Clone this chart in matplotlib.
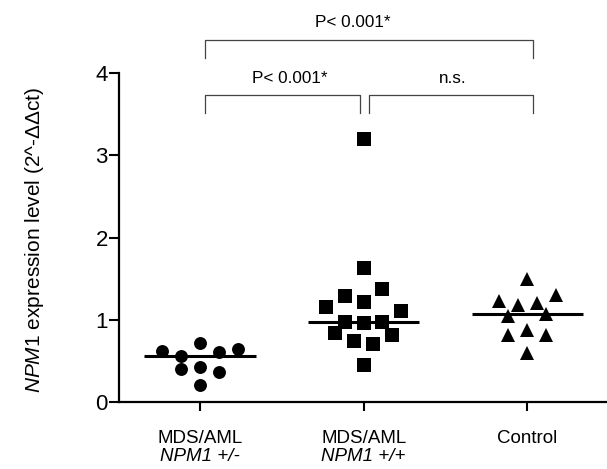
import numpy as np
import matplotlib
matplotlib.use("Agg")
import matplotlib.pyplot as plt
from matplotlib.transforms import blended_transform_factory

plt.rcParams['font.family'] = ['Liberation Sans', 'DejaVu Sans']
plt.rcParams['mathtext.fontset'] = 'custom'
plt.rcParams['mathtext.it'] = 'Liberation Sans:italic'
plt.rcParams['mathtext.rm'] = 'Liberation Sans'

# values
groups = ["MDS/AML", "MDS/AML", "Control"]
genotypes = ["NPM1 +/-", "NPM1 +/+", ""]
npm1_het = [0.62, 0.56, 0.72, 0.61, 0.65, 0.40, 0.42, 0.36, 0.20]
npm1_wt = [3.20, 1.63, 1.37, 1.29, 1.16, 1.22, 1.11, 0.97, 0.96, 0.97,
           0.84, 0.82, 0.74, 0.70, 0.45]
control = [1.49, 1.30, 1.23, 1.18, 1.20, 1.05, 1.07, 0.82, 0.88, 0.81, 0.60]

# column-scatter slots (half steps) for each point
het_slots = [-4, -2, 0, 2, 4, -2, 0, 2, 0]
wt_slots = [0, 0, 2, -2, -4, 0, 4, -2, 0, 2, -3, 3, -1, 1, 0]
ctrl_slots = [0, 3, -3, -1, 1, -2, 2, -2, 0, 2, 0]

fig = plt.figure(figsize=(6.07, 4.69), dpi=100)
ax = fig.add_axes([119 / 607, 0.143, 488 / 607, 0.701])

step = 0.0575
series = [(npm1_het, het_slots, 'o', 9.3),
          (npm1_wt, wt_slots, 's', 10.5),
          (control, ctrl_slots, '^', 10.0)]
for i, (vals, slots, mk, ms) in enumerate(series):
    xpos = i + 1 + np.array(slots) * step
    ax.plot(xpos, vals, linestyle='none', marker=mk, markersize=ms,
            color='black', markeredgewidth=0, clip_on=False, zorder=3)
    med = np.median(vals)
    ax.plot([i + 1 - 0.34, i + 1 + 0.34], [med, med], color='black', lw=2.2,
            solid_capstyle='butt', zorder=2)

ax.set_xlim(0.505, 3.487)
ax.set_ylim(0, 4)
ax.set_yticks([0, 1, 2, 3, 4])
ax.set_xticks([1, 2, 3])
ax.set_xticklabels([])
ax.spines['top'].set_visible(False)
ax.spines['right'].set_visible(False)
ax.spines['left'].set_linewidth(1.6)
ax.spines['bottom'].set_linewidth(1.6)
ax.tick_params(axis='y', direction='out', length=7, width=1.5, labelsize=16, pad=1)
ax.tick_params(axis='x', direction='out', length=6.5, width=1.5)

trans = blended_transform_factory(ax.transData, fig.transFigure)
for i in range(3):
    ax.text(i + 1, 1 - 438 / 469, groups[i], transform=trans, ha='center',
            va='center', fontsize=13.5)
    if genotypes[i]:
        ax.text(i + 1, 1 - 456 / 469, genotypes[i], transform=trans, ha='center',
                va='center', fontsize=13.5, style='italic')

fig.text(35 / 607, 1 - 240 / 469, r'$\it{NPM1}$ expression level (2^-ΔΔct)',
         rotation=90, ha='center', va='center', fontsize=15)

# significance brackets
bc = '#444444'
ax.plot([1.03, 1.03, 3.033, 3.033], [4.18, 4.40, 4.40, 4.18], color=bc, lw=0.9, clip_on=False)
ax.plot([1.03, 1.03, 1.978, 1.978], [3.51, 3.73, 3.73, 3.51], color=bc, lw=0.9, clip_on=False)
ax.plot([2.033, 2.033, 3.033, 3.033], [3.51, 3.73, 3.73, 3.51], color=bc, lw=0.9, clip_on=False)
ax.text(1.935, 4.62, 'P< 0.001*', ha='center', va='center', fontsize=12.3)
ax.text(1.55, 3.94, 'P< 0.001*', ha='center', va='center', fontsize=12.3)
ax.text(2.546, 3.94, 'n.s.', ha='center', va='center', fontsize=12.3)

fig.savefig('out.png', dpi=100)
